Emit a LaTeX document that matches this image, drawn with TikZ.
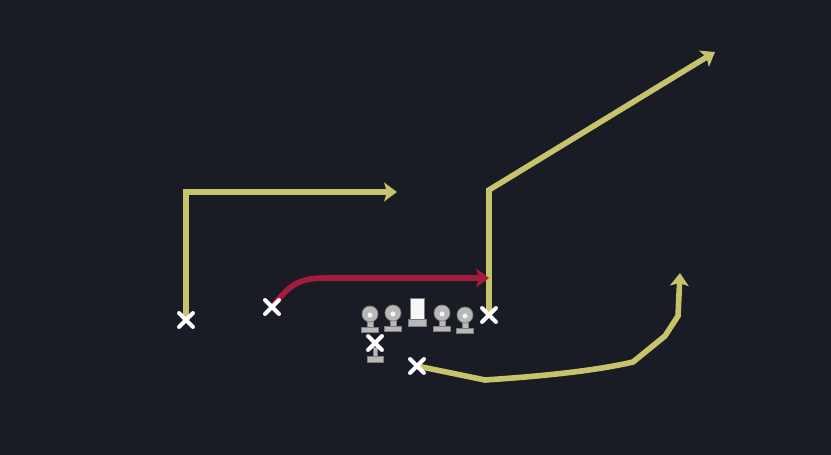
\documentclass[tikz,border=0pt]{standalone}
\usetikzlibrary{arrows.meta,shapes.misc}
\definecolor{bg}{HTML}{191C24}
\definecolor{route}{HTML}{C6C36C}
\definecolor{redroute}{HTML}{A31B3D}
\definecolor{pawngray}{HTML}{B8B8B8}
\definecolor{pawnedge}{HTML}{7E7E7E}
\pgfdeclarelayer{back}
\pgfdeclarelayer{bgl}
\pgfsetlayers{back,bgl,main}
\tikzset{
  xmark/.style={cross out, draw=white, line width=3.4pt, minimum size=8.5pt, inner sep=0pt, line cap=round},
  routeline/.style={draw=route, line width=4.8pt, line join=miter, -{Stealth[length=11pt,width=16pt,inset=2.5pt]}},
  redline/.style={draw=redroute, line width=4.8pt, -{Stealth[length=11pt,width=16pt,inset=2.5pt]}},
  pawnfill/.style={fill=pawngray, draw=pawnedge, line width=0.6pt},
  pawn/.pic={
    \path[pawnfill] (-3,-12) rectangle (3,-4);
    \path[pawnfill] (-8.5,-5) rectangle (8.5,0);
    \path[pawnfill] (0,-18) circle (8);
    \fill[white!85!pawngray] (0,-17) circle (2.5);
  }
}
\begin{document}
\begin{tikzpicture}[x=0.03cm,y=-0.03cm]
\begin{pgfonlayer}{back}
\fill[bg] (0,0) rectangle (831,455);
\end{pgfonlayer}
\useasboundingbox (0,0) rectangle (831,455);

% receivers / backs
\node[xmark] (lr) at (186,320) {};
\node[xmark] (rb) at (272,307) {};
\node[xmark] (te) at (489,315) {};
\node[xmark] (hb) at (417,366) {};

\coordinate (lrturn) at (186,192);
\coordinate (lrend) at (397,192);
\coordinate (teturn) at (489,190);
\coordinate (teend) at (715,52);
\coordinate (rbend) at (489,278);
\coordinate (hbend) at (680,273);

\begin{pgfonlayer}{bgl}
\path[routeline] (lr.center) -- (lrturn) -- (lrend);
\path[routeline] (te.center) -- (teturn) -- (teend);
\path[redline] (rb.center) .. controls (288,288) and (295,278) .. (325,278) -- (rbend);
\path[routeline] (hb.center) -- (485,380) .. controls (530,377) and (590,372) .. (633,362)
   -- (665,336) -- (678,316) -- (hbend);
\end{pgfonlayer}

% offensive line
\pic (lt) at (370,332) {pawn};
\pic (lg) at (393,331) {pawn};
\pic (rg) at (442,331) {pawn};
\pic (rt) at (465,333) {pawn};
% center
\path[fill=white!90!pawngray, draw=pawnedge, line width=0.6pt] (410,298) rectangle (424,319);
\path[fill=pawngray, draw=pawnedge, line width=0.6pt] (408,319) rectangle (426,326);
% quarterback
\path[pawnfill] (373,347) rectangle (377,357);
\path[pawnfill] (367,356) rectangle (383,362);
\node[xmark] (qb) at (375,343) {};
\end{tikzpicture}
\end{document}
